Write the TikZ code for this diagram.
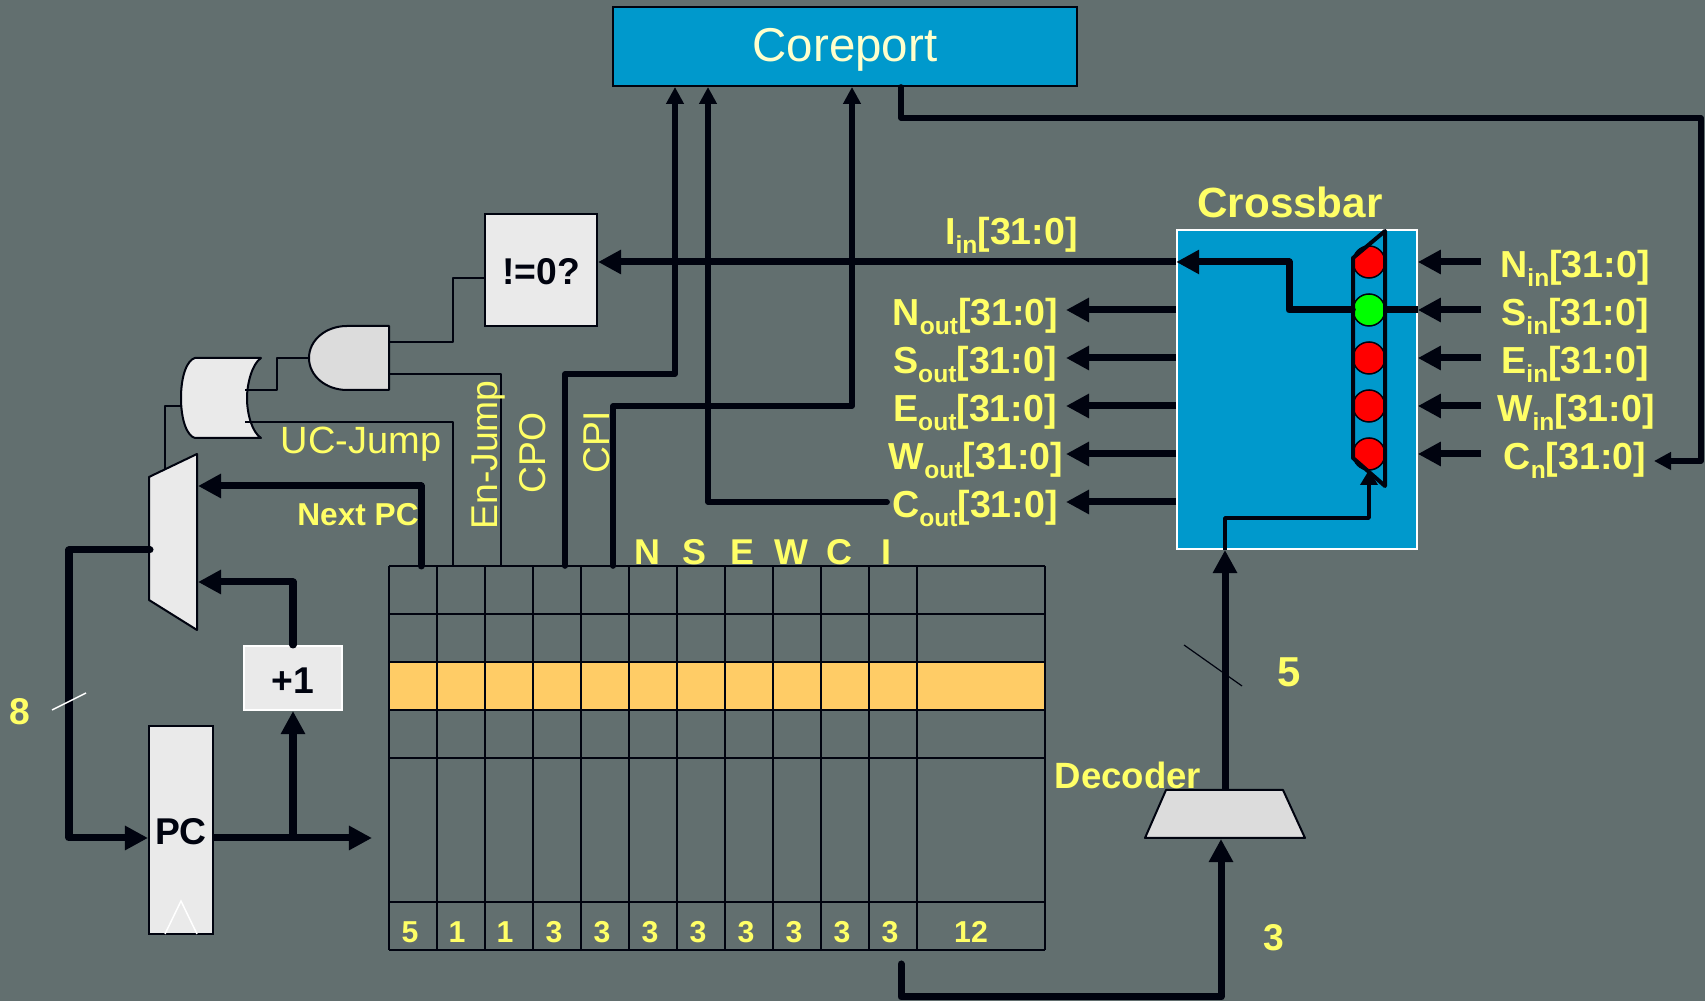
\documentclass[tikz,border=0pt]{standalone}
\usepackage{fontspec}
\setmainfont{Liberation Sans}
\usetikzlibrary{arrows.meta}
\usetikzlibrary{positioning}

\definecolor{slidebg}{HTML}{626F6F}
\definecolor{ink}{HTML}{00030F}
\definecolor{lblyellow}{HTML}{FFFF66}
\definecolor{lblcream}{HTML}{FFFFCC}
\definecolor{portblue}{HTML}{0099CC}
\definecolor{boxgray}{HTML}{EAEAEA}
\definecolor{gategray}{HTML}{DCDCDC}
\definecolor{rowgold}{HTML}{FFCC66}

\newcommand{\portname}[2]{#1\raisebox{-2.5pt}{\fontsize{7}{8}\selectfont #2}[31:0]}

\tikzset{
  bus/.style={draw=ink, line width=0.07cm, line join=round},
  midbus/.style={draw=ink, line width=0.057cm, line join=round},
  wire/.style={draw=ink, line width=0.02cm, line join=round},
  bigtip/.style={-{Triangle[length=0.23cm,width=0.23cm]}},
  smalltip/.style={-{Triangle[length=0.17cm,width=0.17cm]}},
  boxnode/.style={rectangle, fill=boxgray, draw=ink, line width=0.02cm, inner sep=0pt,
    text=ink, font=\fontsize{10.6}{12}\selectfont\bfseries},
  lblbold/.style={text=lblyellow, inner sep=0pt, font=\fontsize{10.2}{12}\selectfont\bfseries},
  lblport/.style={text=lblyellow, inner sep=0pt, anchor=base, font=\fontsize{10.7}{12}\selectfont\bfseries},
  lblplain/.style={text=lblyellow, inner sep=0pt, font=\fontsize{10.6}{12}\selectfont},
  cellnum/.style={text=lblyellow, inner sep=0pt, font=\fontsize{8.6}{10}\selectfont\bfseries},
  xpoint/.style={circle, draw=ink, line width=0.015cm, minimum size=0.32cm, inner sep=0pt},
}

\begin{document}
\begin{tikzpicture}[x=0.01cm,y=-0.01cm]
  % 背景
  \fill[slidebg] (0,0) rectangle (1705,1001);
  \useasboundingbox (0,0) rectangle (1705,1001);

  % Coreport
  \node[rectangle, fill=portblue, draw=ink, line width=0.02cm, minimum width=4.64cm, minimum height=0.79cm,
    text=lblcream, text height=10pt, text depth=1.2pt, font=\fontsize{13.5}{16}\selectfont] (coreport) at (845,46.5) {Coreport};

  % テーブル
  \fill[rowgold] (389,662) rectangle (1045,710);
  \draw[wire] (389,566) -- (1045,566) (389,614) -- (1045,614) (389,662) -- (1045,662)
    (389,710) -- (1045,710) (389,758) -- (1045,758) (389,902) -- (1045,902) (389,950) -- (1045,950);
  \draw[wire] (389,566) -- (389,950) (437,566) -- (437,950) (485,566) -- (485,950) (533,566) -- (533,950)
    (581,566) -- (581,950) (629,566) -- (629,950) (677,566) -- (677,950) (725,566) -- (725,950)
    (773,566) -- (773,950) (821,566) -- (821,950) (869,566) -- (869,950) (917,566) -- (917,950)
    (1045,566) -- (1045,950);

  % フィールド幅
  \node[cellnum] (wnext) at (410,932) {5};
  \node[cellnum] (wuc)   at (457,932) {1};
  \node[cellnum] (wen)   at (505,932) {1};
  \node[cellnum] (wcpo)  at (554,932) {3};
  \node[cellnum] (wcpi)  at (602,932) {3};
  \node[cellnum] (wn)    at (650,932) {3};
  \node[cellnum] (ws)    at (698,932) {3};
  \node[cellnum] (we)    at (746,932) {3};
  \node[cellnum] (ww)    at (794,932) {3};
  \node[cellnum] (wc)    at (842,932) {3};
  \node[cellnum] (wi)    at (890,932) {3};
  \node[cellnum] (wrest) at (971,932) {12};

  % フィールド名
  \node[lblbold] (fn) at (647,552) {N};
  \node[lblbold] (fs) at (694,552) {S};
  \node[lblbold] (fe) at (742,552) {E};
  \node[lblbold] (fw) at (791,552) {W};
  \node[lblbold] (fc) at (839,552) {C};
  \node[lblbold] (fi) at (886,552) {I};

  % PC, +1, !=0?
  \node[boxnode, text height=8pt, text depth=0pt, minimum width=0.64cm, minimum height=2.08cm] (pc) at (181,830) {PC};
  \node[boxnode, draw=white, text height=9pt, text depth=0pt, minimum width=0.97cm, minimum height=0.64cm] (plusone) at (293,678) {+1};
  \node[boxnode, text height=8pt, text depth=0pt, minimum width=1.12cm, minimum height=1.12cm] (nonzero) at (541,270) {!=0?};
  \draw[white, line width=0.015cm] (165,934) -- (181,901) -- (197,934);

  % マルチプレクサ
  \fill[boxgray] (149,477) -- (197,454) -- (197,630) -- (149,600) -- cycle;
  \draw[wire] (149,477) -- (197,454) -- (197,630) -- (149,600) -- cycle;

  % ゲート
  \draw[wire, fill=gategray] (389,326) -- (347,326) .. controls (326,326) and (309,340) .. (309,358)
    .. controls (309,376) and (326,390) .. (347,390) -- (389,390) -- cycle;
  \draw[wire, fill=boxgray] (195,358) -- (261,358) .. controls (252,364) and (247,384) .. (247,398)
    .. controls (247,414) and (252,432) .. (261,438) -- (195,438) .. controls (187,436) and (181,420) .. (181,398)
    .. controls (181,376) and (187,360) .. (195,358) -- cycle;

  % 端点
  \coordinate (andout) at (389,342);
  \coordinate (andinu) at (309,358);
  \coordinate (andinl) at (389,374);
  \coordinate (orinu) at (245,390);
  \coordinate (orinl) at (245,422);
  \coordinate (orout) at (181,406);
  \coordinate (muxsel) at (165,469);
  \coordinate (muxout) at (150,550);
  \coordinate (muxnext) at (198,486);
  \coordinate (muxinc) at (198,582);
  \coordinate (tnext) at (421,566);
  \coordinate (tuc) at (453,566);
  \coordinate (ten) at (501,566);
  \coordinate (tcpo) at (565,566);
  \coordinate (tcpi) at (613,566);
  \coordinate (tdec) at (901,964);
  \coordinate (pcnext) at (372,838);
  \coordinate (pcin) at (148,838);
  \coordinate (pctap) at (293,838);

  % 細い配線
  \draw[wire] (andout) -- (453,342) -- (453,278) -- (nonzero.west |- 0,278);
  \draw[wire] (andinl) -- (501,374) -- (ten);
  \draw[wire] (andinu) -- (277,358) -- (277,390) -- (orinu);
  \draw[wire] (orinl) -- (453,422) -- (tuc);
  \draw[wire] (orout) -- (165,406) -- (muxsel);

  % PC まわりのバス
  \draw[bus, bigtip] (pc.east |- pcnext) -- (pcnext);
  \draw[bus, bigtip] (pctap) -- (plusone.south);
  \draw[bus, bigtip, line cap=round] (plusone.north) -- (293,582) -- (muxinc);
  \draw[bus, bigtip, line cap=round] (tnext) -- (421,486) -- (muxnext);
  \draw[bus, bigtip, line cap=round] (muxout) -- (69,550) -- (69,838) -- (pcin);
  \draw[white, line width=0.015cm] (52,710) -- (86,693);

  % Crossbar
  \node[rectangle, fill=portblue, draw=white, line width=0.015cm, minimum width=2.40cm, minimum height=3.19cm] (crossbar) at (1297,389.5) {};
  \node[xpoint, fill=red]   (xn) at (1369,262) {};
  \node[xpoint, fill=green] (xs) at (1369,310) {};
  \node[xpoint, fill=red]   (xe) at (1369,358) {};
  \node[xpoint, fill=red]   (xw) at (1369,406) {};
  \node[xpoint, fill=red]   (xc) at (1369,454) {};
  \coordinate (xctl) at (1369,470);
  \draw[bus] (crossbar.east |- xs) -- (xs.east);
  \draw[bus, bigtip, line cap=round] (xs.west) -- (1289,310) -- (1289,262) -- (crossbar.west |- 0,262);
  \draw[bus, bigtip] (crossbar.west |- 0,262) -- (nonzero.east |- 0,262);
  \draw[draw=ink, line width=0.04cm, line join=round] (1385,231) -- (1353,258) -- (1353,458) -- (1385,486) -- cycle;

  % デコーダ
  \draw[wire, fill=gategray] (1166,790) -- (1283,790) -- (1305,838) -- (1145,838) -- cycle;
  \coordinate (decin) at (1221,839);
  \coordinate (decout) at (1225,790);
  \coordinate (xbarin) at (1225,550);
  \draw[bus, bigtip] (decout) -- (xbarin);
  \draw[bus, bigtip, line cap=round] (tdec) -- (901,997) -- (1221,997) -- (decin);
  \draw[draw=ink, line width=0.035cm, line join=round, -{Triangle[length=0.15cm,width=0.17cm]}] (xbarin) -- (1225,518) -- (1369,518) -- (xctl);
  \draw[ink, line width=0.012cm] (1184,645) -- (1242,686);

  % Coreport への配線
  \coordinate (cpotip) at (675,87);
  \coordinate (couttip) at (708,87);
  \coordinate (cpitip) at (852,87);
  \coordinate (coutstart) at (887,502);
  \draw[midbus, smalltip, line cap=round] (tcpo) -- (565,374) -- (675,374) -- (cpotip);
  \draw[midbus, smalltip, line cap=round] (tcpi) -- (613,406) -- (852,406) -- (cpitip);
  \draw[midbus, smalltip, line cap=round] (coutstart) -- (708,502) -- (couttip);
  \coordinate (cnend) at (1654,461);
  \draw[midbus, smalltip, line cap=round] (coreport.south -| 901,0) -- (901,118) -- (1701,118) -- (1701,461) -- (cnend);

  % 出力ポート
  \coordinate (nout) at (1066,310);
  \coordinate (sout) at (1066,358);
  \coordinate (eout) at (1066,406);
  \coordinate (wout) at (1066,454);
  \coordinate (cout) at (1066,502);
  \draw[bus, bigtip] (crossbar.west |- nout) -- (nout);
  \draw[bus, bigtip] (crossbar.west |- sout) -- (sout);
  \draw[bus, bigtip] (crossbar.west |- eout) -- (eout);
  \draw[bus, bigtip] (crossbar.west |- wout) -- (wout);
  \draw[bus, bigtip] (crossbar.west |- cout) -- (cout);

  % 入力ポート
  \coordinate (nin) at (1481,262);
  \coordinate (sin) at (1481,310);
  \coordinate (ein) at (1481,358);
  \coordinate (win) at (1481,406);
  \coordinate (cin) at (1481,454);
  \draw[bus, bigtip] (nin) -- (crossbar.east |- nin);
  \draw[bus, bigtip] (sin) -- (crossbar.east |- sin);
  \draw[bus, bigtip] (ein) -- (crossbar.east |- ein);
  \draw[bus, bigtip] (win) -- (crossbar.east |- win);
  \draw[bus, bigtip] (cin) -- (crossbar.east |- cin);

  % ラベル
  \node[lblport, font=\fontsize{12}{14}\selectfont\bfseries] (xbarname) at (1290,218) {Crossbar};
  \node[lblport] (iinname) at (1011.5,245) {\portname{I}{in}};
  \node[lblport] (noutname) at (975.5,325.5) {\portname{N}{out}};
  \node[lblport] (soutname) at (975,373.5) {\portname{S}{out}};
  \node[lblport] (eoutname) at (975,421.5) {\portname{E}{out}};
  \node[lblport] (woutname) at (976,469.5) {\portname{W}{out}};
  \node[lblport] (coutname) at (975,517.5) {\portname{C}{out}};
  \node[lblport] (ninname) at (1575,277.5) {\portname{N}{in}};
  \node[lblport] (sinname) at (1575,325.5) {\portname{S}{in}};
  \node[lblport] (einname) at (1575,373.5) {\portname{E}{in}};
  \node[lblport] (winname) at (1576,421.5) {\portname{W}{in}};
  \node[lblport] (cinname) at (1575,469.5) {\portname{C}{n}};
  \node[lblbold, font=\fontsize{10.4}{12}\selectfont\bfseries] (decname) at (1128,775) {Decoder};
  \node[lblbold, font=\fontsize{9}{11}\selectfont\bfseries] (nextname) at (358,515) {Next PC};
  \node[lblplain, font=\fontsize{10.8}{12}\selectfont] (ucname) at (361,444) {UC-Jump};
  \node[lblplain, rotate=90] (enname) at (489,455) {En-Jump};
  \node[lblplain, rotate=90] (cponame) at (533,453) {CPO};
  \node[lblplain, rotate=90] (cpiname) at (597,442) {CPI};
  \node[lblbold, font=\fontsize{10.6}{12}\selectfont\bfseries] (eightname) at (20,712) {8};
  \node[lblbold, font=\fontsize{11.9}{14}\selectfont\bfseries] (fivename) at (1289,672) {5};
  \node[lblbold, font=\fontsize{10.6}{12}\selectfont\bfseries] (threename) at (1274,938) {3};
\end{tikzpicture}
\end{document}
